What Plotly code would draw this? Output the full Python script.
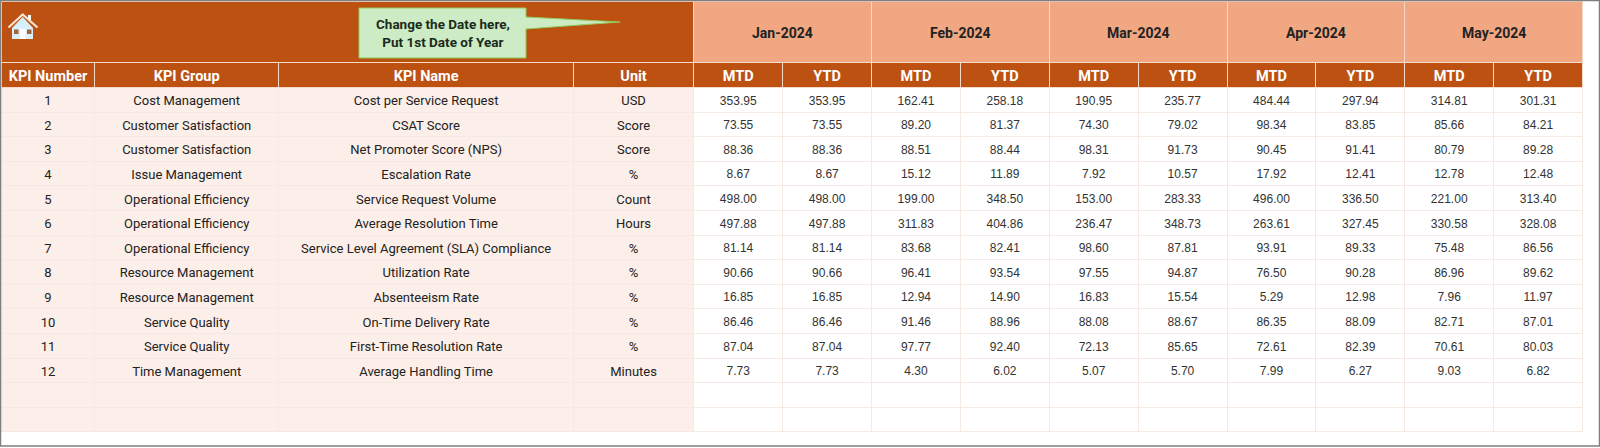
import plotly.graph_objects as go

# data read from the sheet
kpi_number = [str(i) for i in range(1, 13)] + ["", ""]
kpi_group = ["Cost Management", "Customer Satisfaction", "Customer Satisfaction", "Issue Management",
             "Operational Efficiency", "Operational Efficiency", "Operational Efficiency",
             "Resource Management", "Resource Management", "Service Quality", "Service Quality",
             "Time Management", "", ""]
kpi_name = ["Cost per Service Request", "CSAT Score", "Net Promoter Score (NPS)", "Escalation Rate",
            "Service Request Volume", "Average Resolution Time", "Service Level Agreement (SLA) Compliance",
            "Utilization Rate", "Absenteeism Rate", "On-Time Delivery Rate", "First-Time Resolution Rate",
            "Average Handling Time", "", ""]
unit = ["USD", "Score", "Score", "%", "Count", "Hours", "%", "%", "%", "%", "%", "Minutes", "", ""]

months = ["Jan-2024", "Feb-2024", "Mar-2024", "Apr-2024", "May-2024"]

jan_mtd = [353.95, 73.55, 88.36, 8.67, 498.00, 497.88, 81.14, 90.66, 16.85, 86.46, 87.04, 7.73]
jan_ytd = [353.95, 73.55, 88.36, 8.67, 498.00, 497.88, 81.14, 90.66, 16.85, 86.46, 87.04, 7.73]
feb_mtd = [162.41, 89.20, 88.51, 15.12, 199.00, 311.83, 83.68, 96.41, 12.94, 91.46, 97.77, 4.30]
feb_ytd = [258.18, 81.37, 88.44, 11.89, 348.50, 404.86, 82.41, 93.54, 14.90, 88.96, 92.40, 6.02]
mar_mtd = [190.95, 74.30, 98.31, 7.92, 153.00, 236.47, 98.60, 97.55, 16.83, 88.08, 72.13, 5.07]
mar_ytd = [235.77, 79.02, 91.73, 10.57, 283.33, 348.73, 87.81, 94.87, 15.54, 88.67, 85.65, 5.70]
apr_mtd = [484.44, 98.34, 90.45, 17.92, 496.00, 263.61, 93.91, 76.50, 5.29, 86.35, 72.61, 7.99]
apr_ytd = [297.94, 83.85, 91.41, 12.41, 336.50, 327.45, 89.33, 90.28, 12.98, 88.09, 82.39, 6.27]
may_mtd = [314.81, 85.66, 80.79, 12.78, 221.00, 330.58, 75.48, 86.96, 7.96, 82.71, 70.61, 9.03]
may_ytd = [301.31, 84.21, 89.28, 12.48, 313.40, 328.08, 86.56, 89.62, 11.97, 87.01, 80.03, 6.82]

W, H = 1600, 448
BROWN = "#BD5112"
PEACH = "#F0A782"
PALE = "#FCEEE8"
LINE = "#F5EAE3"
LABEL_FONT = "Roboto"
ARIAL = "Liberation Sans"

value_cols = [jan_mtd, jan_ytd, feb_mtd, feb_ytd, mar_mtd, mar_ytd, apr_mtd, apr_ytd, may_mtd, may_ytd]
value_text = [[f"{v:.2f}" for v in col] + ["", ""] for col in value_cols]

left_edge = 1.5
widths = [93, 184.5, 294.5, 120.5] + [88.9] * 10
total_w = sum(widths)
dom_x = [left_edge / W, (left_edge + total_w) / W]


def px(x):
    return x / W


def py(y):
    return 1 - y / H


def path(points):
    return "M" + " L".join(f"{px(x):.5f},{py(y):.5f}" for x, y in points) + " Z"


fig = go.Figure()

# top band: one wide cell then the merged month cells, month text goes on as annotations
fig.add_trace(go.Table(
    domain=dict(x=dom_x, y=[py(62.5), py(1.5)]),
    columnwidth=[sum(widths[:4])] + [88.9 * 2] * 5,
    header=dict(
        values=[""] * 6,
        height=61,
        fill_color=[BROWN] + [PEACH] * 5,
        line=dict(color="#F7D9C8", width=1),
    ),
    cells=dict(values=[[] for _ in range(6)]),
))

# column header and body
fig.add_trace(go.Table(
    domain=dict(x=dom_x, y=[py(433), py(62.5)]),
    columnwidth=widths,
    header=dict(
        values=["KPI\u00a0Number", "KPI Group", "KPI Name", "Unit"] + ["MTD", "YTD"] * 5,
        height=25,
        fill_color=BROWN,
        line=dict(color="#F7D9C8", width=1),
        align="center",
        font=dict(family="Roboto", size=14.5, color="white", weight="bold"),
    ),
    cells=dict(
        values=[kpi_number, kpi_group, kpi_name, unit] + value_text,
        height=24.6,
        fill_color=[PALE] * 4 + ["white"] * 10,
        line=dict(color=LINE, width=1),
        align="center",
        font=dict(family=[LABEL_FONT] * 4 + [ARIAL] * 10, size=[13] * 4 + [12] * 10,
                  color=["#222222"] * 4 + ["#333333"] * 10),
    ),
))

shapes = [
    # sheet frame
    dict(type="rect", xref="paper", yref="paper", x0=px(0.5), x1=px(1599.5), y0=py(446), y1=py(0.5),
         line=dict(color="#7F7F7F", width=1.5)),
    # callout
    dict(type="path", xref="paper", yref="paper", fillcolor="#CDEBC4", line=dict(color="#8FCB5A", width=1),
         path=path([(359, 8), (526, 8), (526, 17), (620, 22), (526, 29), (526, 58), (359, 58)])),
    # home icon
    dict(type="path", xref="paper", yref="paper", fillcolor="#FFFFFF", line=dict(width=0),
         path=path([(28, 15), (31, 15), (31, 22), (28, 20)])),
    dict(type="path", xref="paper", yref="paper", fillcolor="#D8F0FA", line=dict(width=0),
         path=path([(12, 28), (22.7, 17), (33, 28), (33, 39), (12, 39)])),
    dict(type="path", xref="paper", yref="paper", fillcolor="rgba(0,0,0,0)",
         line=dict(color="#FBE3D2", width=2.2),
         path="M" + " L".join(f"{px(x):.5f},{py(y):.5f}" for x, y in [(8.5, 27.5), (22.7, 14.5), (37.5, 27.5)])),
    dict(type="rect", xref="paper", yref="paper", x0=px(14), x1=px(18.5), y0=py(34), y1=py(29.5),
         fillcolor="#A0643C", line=dict(width=0)),
    dict(type="rect", xref="paper", yref="paper", x0=px(27), x1=px(31.5), y0=py(34), y1=py(29.5),
         fillcolor="#A0643C", line=dict(width=0)),
    dict(type="rect", xref="paper", yref="paper", x0=px(20), x1=px(25.5), y0=py(39), y1=py(29),
         fillcolor="#FFFFFF", line=dict(width=0)),
]

annotations = [
    dict(xref="paper", yref="paper", x=px(442.5), y=py(33), xanchor="center", yanchor="middle",
         showarrow=False, align="center",
         text="<b>Change the Date here,<br>Put 1st Date of Year</b>",
         font=dict(family="Roboto", size=13.5, color="#1A2A1A")),
]
month_left = left_edge + sum(widths[:4])
for i, m in enumerate(months):
    annotations.append(dict(
        xref="paper", yref="paper", x=px(month_left + 88.9 * (2 * i + 1)), y=py(32.5),
        xanchor="center", yanchor="middle", showarrow=False, text=f"<b>{m}</b>",
        font=dict(family="Roboto", size=14, color="#222222"),
    ))

fig.update_layout(
    width=W,
    height=H,
    margin=dict(l=0, r=0, t=0, b=0),
    paper_bgcolor="white",
    shapes=shapes,
    annotations=annotations,
)

fig.write_html("out.html", config=dict(displayModeBar=False), post_script="document.body.style.margin='0';")
